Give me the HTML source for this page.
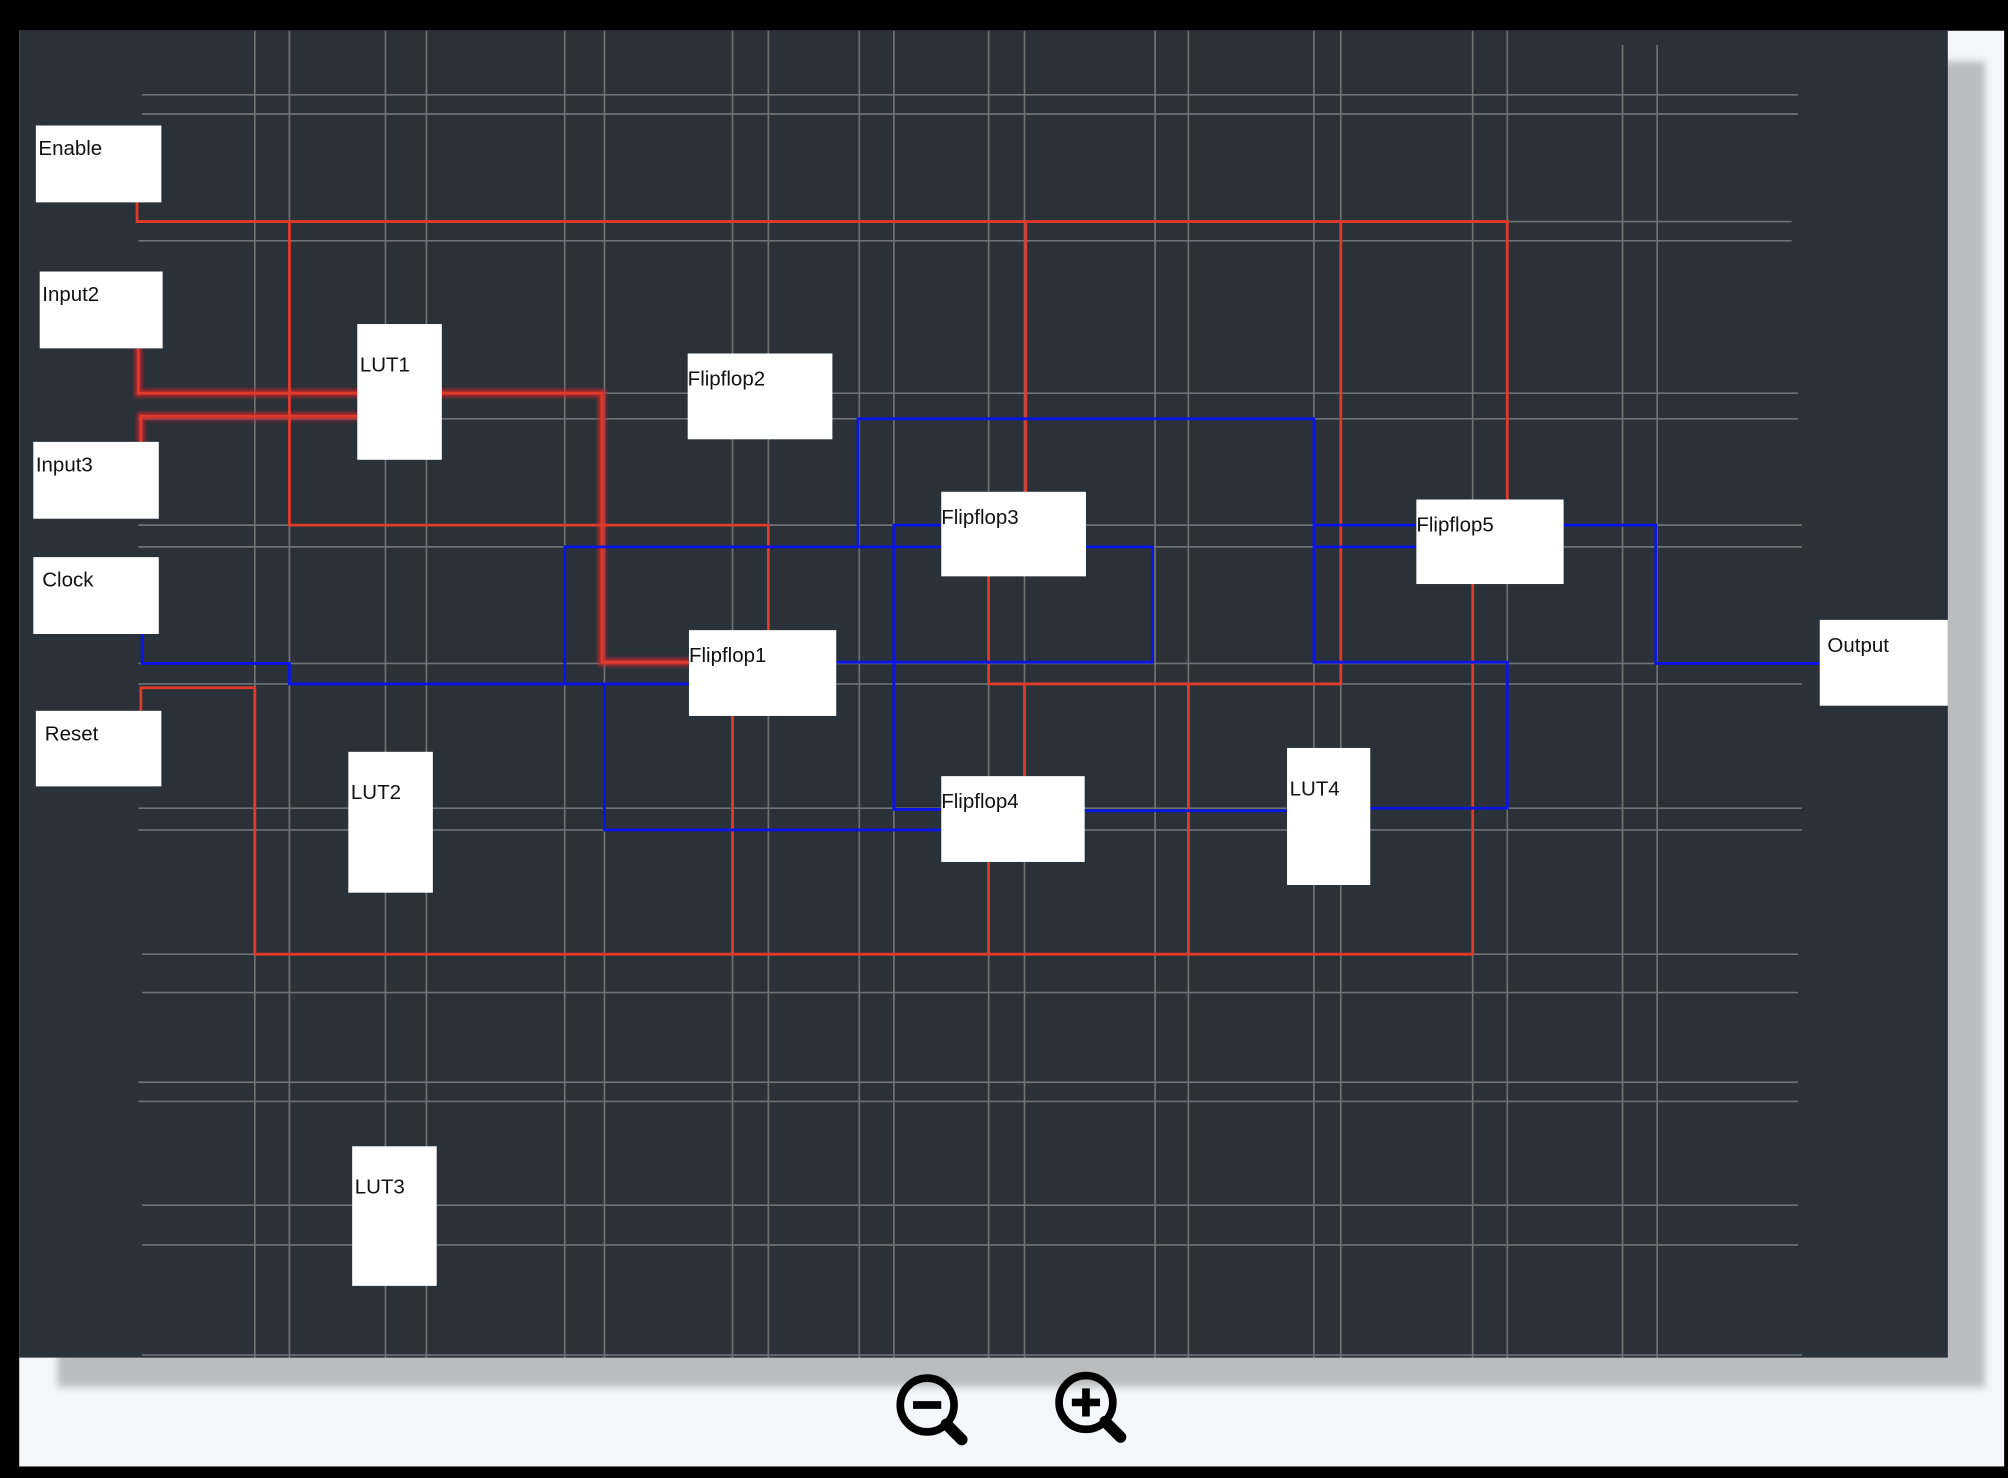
<!DOCTYPE html>
<html><head><meta charset="utf-8"><style>html,body{margin:0;padding:0;background:#000;}svg{display:block}</style></head>
<body>
<svg width="2008" height="1478" viewBox="0 0 1568 1154" preserveAspectRatio="none" xmlns="http://www.w3.org/2000/svg" font-family="Liberation Sans, sans-serif">
<defs><filter id="g" x="-20%" y="-20%" width="140%" height="140%"><feGaussianBlur stdDeviation="1.5"/></filter>
<filter id="s"><feGaussianBlur stdDeviation="3"/></filter></defs>
<rect width="1568" height="1154" fill="#000"/>
<rect x="15" y="24" width="1550" height="1121" fill="#f5f6fa"/>
<rect x="45" y="48" width="1505" height="1035" fill="#bbbcbe" filter="url(#s)"/>
<rect x="15" y="24" width="1506" height="1036" fill="#2a3138"/>
<g stroke="#6e7275" stroke-width="1.3">
<path d="M111 74H1404M111 89H1404M108 173H1399M108 188H1399M108 307H1404M108 327H1404M108 410H1407M108 427H1407M108 518H1407M108 534H1407M108 631H1407M108 648H1407M111 745H1404M111 775H1404M108 845H1404M108 860H1404M111 941H1404M111 972H1404M111 1058H1407"/>
<path d="M199 24V1060M226 24V1060M301 24V1060M333 24V1060M441 24V1060M472 24V1060M572 24V1060M600 24V1060M671 24V1060M698 24V1060M772 24V1060M800 24V1060M902 24V1060M928 24V1060M1026 24V1060M1047 24V1060M1150 24V1060M1177 24V1060M1267 35V1060M1294 35V1060"/>
</g>
<g fill="none" stroke="#d0282a" stroke-width="6" filter="url(#g)" opacity="0.8">
<path d="M108 272V307H470V517H538M110 345V325H279"/></g>
<g fill="none" stroke="#e03a2a" stroke-width="2.2">
<path d="M108 272V307H470V517H538M110 345V325H279"/>
<path d="M107 158V173H1177V390M226 173V410H600V492M801 173V384M1047 173V534H772V450M800 534V606"/>
<path d="M110 555V537H199V745H1150V456M572 559V745M772 673V745M928 534V745"/>
</g>
<g fill="none" stroke="#0a14e6" stroke-width="2.2">
<path d="M111 495V518H226V534H538M441 534V427H900V517H653"/>
<path d="M670 427V327H1026V517H1177V631H1070"/>
<path d="M735 410H698V632H735M472 534V648H735M847 633H1005"/>
<path d="M1106 410H1026M1106 427H1026M1221 410H1293V518H1421"/>
</g>
<g fill="#fff">
<rect x="28" y="98" width="98" height="60"/><rect x="31" y="212" width="96" height="60"/>
<rect x="26" y="345" width="98" height="60"/><rect x="26" y="435" width="98" height="60"/>
<rect x="28" y="555" width="98" height="59"/><rect x="279" y="253" width="66" height="106"/>
<rect x="537" y="276" width="113" height="67"/><rect x="735" y="384" width="113" height="66"/>
<rect x="1106" y="390" width="115" height="66"/><rect x="538" y="492" width="115" height="67"/>
<rect x="735" y="606" width="112" height="67"/><rect x="272" y="587" width="66" height="110"/>
<rect x="1005" y="584" width="65" height="107"/><rect x="275" y="895" width="66" height="109"/>
<rect x="1421" y="484" width="100" height="67"/>
</g>
<g font-size="16" fill="#111">
<text x="30" y="121">Enable</text><text x="33" y="235">Input2</text><text x="28" y="368">Input3</text>
<text x="33" y="458">Clock</text><text x="35" y="578">Reset</text><text x="281" y="290">LUT1</text>
<text x="537" y="301">Flipflop2</text><text x="735" y="409">Flipflop3</text><text x="1106" y="415">Flipflop5</text>
<text x="538" y="517">Flipflop1</text><text x="735" y="631">Flipflop4</text><text x="274" y="624">LUT2</text>
<text x="1007" y="621">LUT4</text><text x="277" y="932">LUT3</text><text x="1427" y="509">Output</text>
</g>
<g stroke="#000" fill="none">
<circle cx="724" cy="1097" r="21" stroke-width="6"/><path d="M739 1112L751 1124" stroke-width="9" stroke-linecap="round"/>
<path d="M713 1097H735" stroke-width="6"/>
<circle cx="848" cy="1095" r="21" stroke-width="6"/><path d="M863 1110L875 1122" stroke-width="9" stroke-linecap="round"/>
<path d="M837 1095H859M848 1084V1106" stroke-width="6"/>
</g>
</svg>
</body></html>
